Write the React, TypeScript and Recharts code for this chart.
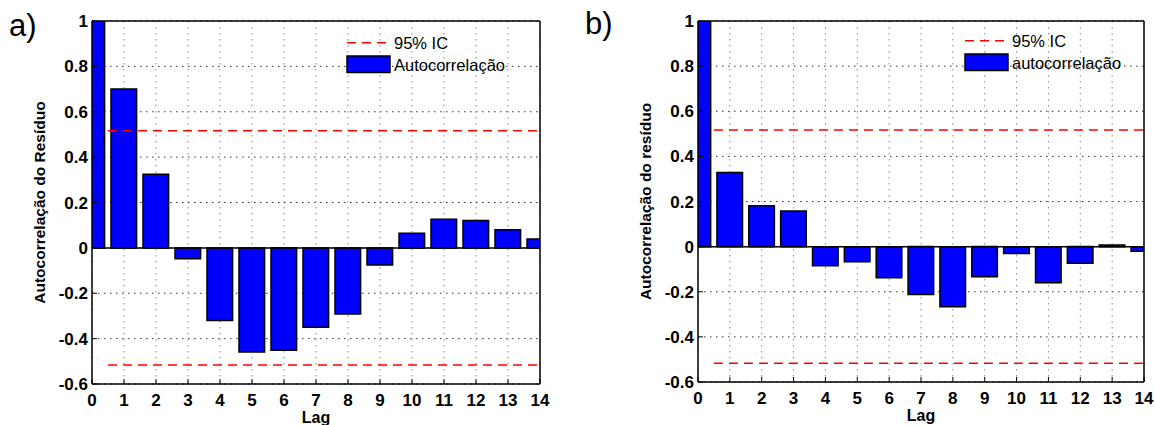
import React from "react";
import {
  ComposedChart,
  Bar,
  XAxis,
  YAxis,
  CartesianGrid,
  ReferenceLine,
  Legend,
} from "recharts";

// lags 0..14, sample autocorrelation of the residuals
const lags = [0, 1, 2, 3, 4, 5, 6, 7, 8, 9, 10, 11, 12, 13, 14];
const acfResidA = [1, 0.7, 0.325, -0.048, -0.32, -0.459, -0.451, -0.35, -0.291, -0.075, 0.065, 0.126, 0.121, 0.08, 0.039];
const acfResidB = [1, 0.329, 0.181, 0.158, -0.085, -0.067, -0.138, -0.212, -0.266, -0.133, -0.03, -0.16, -0.074, 0.007, -0.02];
const confLimit = 0.5164; // 95% IC
const yTicks = [-0.6, -0.4, -0.2, 0, 0.2, 0.4, 0.6, 0.8, 1];

const FONT = '"Liberation Sans", Arial, Helvetica, sans-serif';

const YTitle = (props: any) => {
  const { viewBox, text } = props;
  const cx = viewBox.x + viewBox.width - 53;
  const cy = viewBox.y + viewBox.height / 2;
  return (
    <text
      x={cx}
      y={cy}
      transform={`rotate(-90 ${cx} ${cy})`}
      textAnchor="middle"
      dominantBaseline="central"
      fontFamily={FONT}
      fontWeight="bold"
      fontSize={15.5}
      fill="#000"
    >
      {text}
    </text>
  );
};

const XTitle = (props: any) => {
  const { viewBox } = props;
  return (
    <text
      x={viewBox.x + viewBox.width / 2}
      y={viewBox.y + 39}
      textAnchor="middle"
      fontFamily={FONT}
      fontWeight="bold"
      fontSize={16}
      fill="#000"
    >
      Lag
    </text>
  );
};

const LegendBox = ({ label }: { label: string }) => (
  <svg width={220} height={50} style={{ display: "block" }}>
    <line x1={2} x2={45} y1={10.7} y2={10.7} stroke="#ff0000" strokeWidth={1.5} strokeDasharray="9 6" />
    <rect x={2} y={24} width={43} height={16.5} fill="#0000ff" stroke="#000" strokeWidth={1.5} />
    <text x={49} y={17} fontFamily={FONT} fontSize={16.5} fill="#000">
      95% IC
    </text>
    <text x={49} y={39} fontFamily={FONT} fontSize={16.5} fill="#000">
      {label}
    </text>
  </svg>
);

type PanelProps = {
  values: number[];
  yTitle: string;
  legendLabel: string;
  width: number;
  margin: { top: number; right: number; bottom: number; left: number };
  legendPos: { left: number; top: number };
};

const AcfPanel = ({ values, yTitle, legendLabel, width, margin, legendPos }: PanelProps) => {
  const data = lags.map((lag, i) => ({ lag, acf: values[i] }));
  const tickStyle = { fontFamily: FONT, fontWeight: "bold", fontSize: 17, fill: "#000" };
  return (
    <ComposedChart width={width} height={425} data={data} margin={margin}>
      <CartesianGrid vertical={false} stroke="#333" strokeDasharray="1.5 4.5" strokeWidth={1} />
      <CartesianGrid horizontal={false} stroke="#888" strokeDasharray="1.5 4.5" strokeWidth={1} />
      <XAxis
        dataKey="lag"
        type="number"
        domain={[0, 14]}
        ticks={lags}
        allowDataOverflow
        height={30}
        tickSize={-5}
        tickMargin={15}
        tick={tickStyle}
        axisLine={{ stroke: "#000", strokeWidth: 1.5 }}
        tickLine={{ stroke: "#000" }}
        label={<XTitle />}
      />
      <XAxis
        xAxisId="top"
        orientation="top"
        type="number"
        domain={[0, 14]}
        ticks={lags}
        allowDataOverflow
        height={1}
        tickSize={-5}
        tick={false}
        axisLine={{ stroke: "#000", strokeWidth: 1.5 }}
        tickLine={{ stroke: "#000" }}
      />
      <YAxis
        type="number"
        domain={[-0.6, 1]}
        ticks={yTicks}
        allowDataOverflow
        width={60}
        tickSize={-5}
        tickMargin={9}
        tick={tickStyle}
        tickFormatter={(v: number) => String(v)}
        axisLine={{ stroke: "#000", strokeWidth: 1.5 }}
        tickLine={{ stroke: "#000" }}
        label={<YTitle text={yTitle} />}
      />
      <YAxis
        yAxisId="right"
        orientation="right"
        type="number"
        domain={[-0.6, 1]}
        ticks={yTicks}
        allowDataOverflow
        width={1}
        tickSize={-5}
        tick={false}
        axisLine={{ stroke: "#000", strokeWidth: 1.5 }}
        tickLine={{ stroke: "#000" }}
      />
      <Bar
        dataKey="acf"
        barSize={25.6}
        fill="#0000ff"
        stroke="#000"
        strokeWidth={1.5}
        isAnimationActive={false}
      />
      <ReferenceLine y={0} stroke="#000" strokeWidth={1.5} />
      <ReferenceLine
        segment={[
          { x: 0.5, y: confLimit },
          { x: 14, y: confLimit },
        ]}
        stroke="#ff0000"
        strokeWidth={1.5}
        strokeDasharray="9 6"
      />
      <ReferenceLine
        segment={[
          { x: 0.5, y: -confLimit },
          { x: 14, y: -confLimit },
        ]}
        stroke="#ff0000"
        strokeWidth={1.5}
        strokeDasharray="9 6"
      />
      <Legend
        layout="vertical"
        align="center"
        verticalAlign="middle"
        content={() => <LegendBox label={legendLabel} />}
        wrapperStyle={{ left: legendPos.left, top: legendPos.top, width: 220, height: 50 }}
      />
    </ComposedChart>
  );
};

export default function App() {
  const panelLabel: React.CSSProperties = {
    position: "absolute",
    fontFamily: FONT,
    fontSize: 31,
    lineHeight: "30px",
    color: "#000",
  };
  return (
    <div
      style={{
        position: "absolute",
        left: 0,
        top: 0,
        width: 1155,
        height: 425,
        background: "#fff",
        overflow: "hidden",
      }}
    >
      <div style={{ position: "absolute", left: 0, top: 0 }}>
        <AcfPanel
          values={acfResidA}
          yTitle="Autocorrelação do Resíduo"
          legendLabel="Autocorrelação"
          width={560}
          margin={{ top: 20, right: 19, bottom: 11, left: 32 }}
          legendPos={{ left: 345, top: 32 }}
        />
      </div>
      <div style={{ position: "absolute", left: 580, top: 0 }}>
        <AcfPanel
          values={acfResidB}
          yTitle="Autocorrelação do resíduo"
          legendLabel="autocorrelação"
          width={575}
          margin={{ top: 20, right: 10, bottom: 13, left: 58 }}
          legendPos={{ left: 383, top: 30 }}
        />
      </div>
      <div style={{ ...panelLabel, left: 9, top: 11 }}>a)</div>
      <div style={{ ...panelLabel, left: 585, top: 9 }}>b)</div>
    </div>
  );
}
